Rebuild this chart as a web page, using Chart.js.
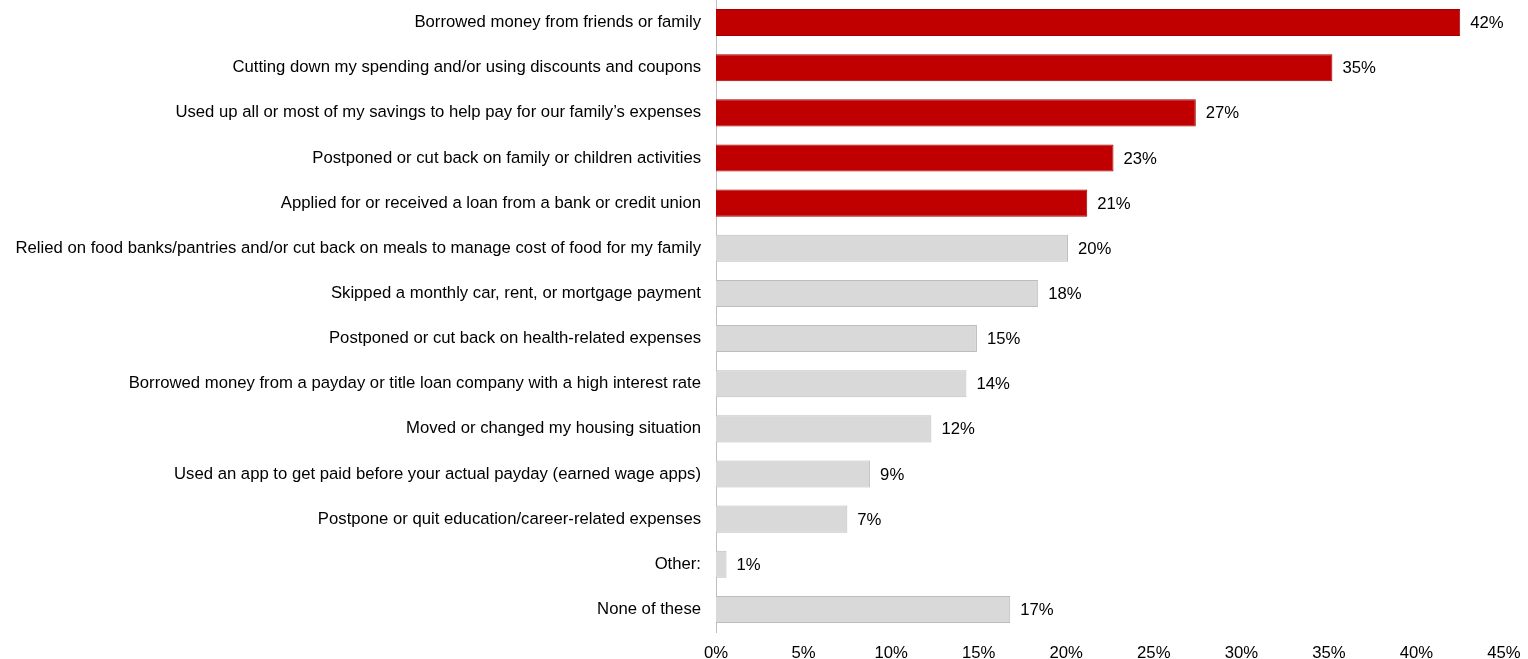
<!DOCTYPE html>
<html>
<head>
<meta charset="utf-8">
<script src="https://cdn.jsdelivr.net/npm/chart.js@4.4.1/dist/chart.umd.min.js"></script>
<style>
  html, body { margin: 0; padding: 0; background: #fff; }
  #wrap { width: 1528px; height: 659px; position: relative; }
</style>
</head>
<body>
<div id="wrap"><canvas id="barChart"></canvas></div>
<script>
// Survey answers, top to bottom
const categories = [
    'Borrowed money from friends or family',
    'Cutting down my spending and/or using discounts and coupons',
    'Used up all or most of my savings to help pay for our family\u2019s expenses',
    'Postponed or cut back on family or children activities',
    'Applied for or received a loan from a bank or credit union',
    'Relied on food banks/pantries and/or cut back on meals to manage cost of food for my family',
    'Skipped a monthly car, rent, or mortgage payment',
    'Postponed or cut back on health-related expenses',
    'Borrowed money from a payday or title loan company with a high interest rate',
    'Moved or changed my housing situation',
    'Used an app to get paid before your actual payday (earned wage apps)',
    'Postpone or quit education/career-related expenses',
    'Other:',
    'None of these'
];

// Bar lengths (percent)
const shares = [42.5, 35.2, 27.4, 22.7, 21.2, 20.1, 18.4, 14.9, 14.3, 12.3, 8.8, 7.5, 0.6, 16.8];

// Printed value labels
const shareLabels = ['42%', '35%', '27%', '23%', '21%', '20%', '18%', '15%', '14%', '12%', '9%', '7%', '1%', '17%'];

// How many of the top rows are highlighted
const highlightCount = 5;

const xTicks = [0, 5, 10, 15, 20, 25, 30, 35, 40, 45];

const FONT = "'Liberation Sans', Arial, sans-serif";
const FONT_SIZE = 16.7;

// Value labels drawn after each bar end
const valueLabelPlugin = {
    id: 'valueLabels',
    afterDatasetsDraw(chart) {
        const ctx = chart.ctx;
        const meta = chart.getDatasetMeta(0);
        ctx.save();
        ctx.font = FONT_SIZE + 'px ' + FONT;
        ctx.fillStyle = '#000';
        ctx.textAlign = 'left';
        ctx.textBaseline = 'middle';
        meta.data.forEach((bar, i) => {
            ctx.fillText(shareLabels[i], bar.x + 10, bar.y + 1);
        });
        ctx.restore();
    }
};

function createBarChart() {
    const ctx = document.getElementById('barChart').getContext('2d');
    new Chart(ctx, {
        type: 'bar',
        data: {
            labels: categories,
            datasets: [{
                data: shares,
                backgroundColor: shares.map((v, i) => i < highlightCount ? '#c00000' : '#d9d9d9'),
                borderColor: shares.map((v, i) => i < highlightCount ? '#a00000' : '#bdbdbd'),
                borderWidth: 1,
                borderSkipped: 'left',
                categoryPercentage: 0.6,
                barPercentage: 1.0
            }]
        },
        options: {
            indexAxis: 'y',
            responsive: true,
            maintainAspectRatio: false,
            animation: false,
            layout: { padding: { top: 0, right: 24, bottom: 0, left: 0 } },
            plugins: {
                legend: { display: false },
                tooltip: { enabled: false }
            },
            scales: {
                x: {
                    min: 0,
                    max: 45,
                    afterBuildTicks: (scale) => {
                        scale.ticks = xTicks.map(v => ({ value: v }));
                    },
                    afterFit: (scale) => {
                        scale.height = 27;
                        scale.paddingLeft = 0;
                        scale.paddingRight = 0;
                    },
                    grid: { display: false, drawTicks: false },
                    border: { display: false },
                    ticks: {
                        padding: 11,
                        color: '#000',
                        font: { family: FONT, size: FONT_SIZE },
                        maxRotation: 0,
                        callback: (value) => value + '%'
                    }
                },
                y: {
                    afterFit: (scale) => {
                        scale.width = 716;
                        scale.paddingTop = 0;
                        scale.paddingBottom = 0;
                    },
                    grid: { display: false, drawTicks: false },
                    border: { display: true, color: '#bfbfbf', width: 1 },
                    ticks: {
                        padding: 15,
                        color: '#000',
                        font: { family: FONT, size: FONT_SIZE },
                        autoSkip: false
                    }
                }
            }
        },
        plugins: [valueLabelPlugin]
    });
}

window.addEventListener('load', createBarChart);
</script>
</body>
</html>
